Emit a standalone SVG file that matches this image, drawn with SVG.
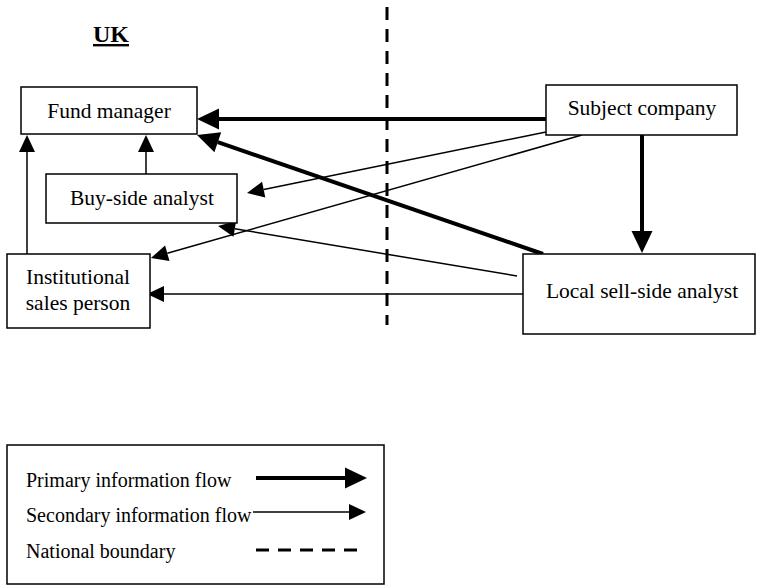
<svg xmlns="http://www.w3.org/2000/svg" width="757" height="585" viewBox="0 0 757 585">
  <defs>
    <style>
      .box { fill: #fff; stroke: #000; stroke-width: 1.5; }
      .lbl { font-family: "Liberation Serif", "Times New Roman", serif; font-size: 21.5px; fill: #000; text-anchor: middle; }
      .leg { font-family: "Liberation Serif", "Times New Roman", serif; font-size: 20px; fill: #000; }
      .primary { stroke: #000; stroke-width: 4; fill: none; marker-end: url(#headP); }
      .secondary { stroke: #000; stroke-width: 1.5; fill: none; marker-end: url(#headS); }
      .boundary { stroke: #000; stroke-width: 3; stroke-dasharray: 13 9; fill: none; }
    </style>
    <marker id="headP" markerUnits="userSpaceOnUse" markerWidth="24" markerHeight="24" refX="0" refY="11" orient="auto" viewBox="0 0 24 22" overflow="visible">
      <path d="M0,0.5 L22,11 L0,21.5 z" fill="#000"/>
    </marker>
    <marker id="headS" markerUnits="userSpaceOnUse" markerWidth="18" markerHeight="18" refX="0" refY="8" orient="auto" viewBox="0 0 18 16" overflow="visible">
      <path d="M0,0 L17,8 L0,16 z" fill="#000"/>
    </marker>
  </defs>

  <rect width="757" height="585" fill="#fff"/>

  <text x="111" y="42" font-family="Liberation Serif, Times New Roman, serif" font-size="24" font-weight="bold" text-anchor="middle" text-decoration="underline">UK</text>

  <g id="boundary">
    <line class="boundary" x1="387" y1="7" x2="387" y2="325"/>
  </g>

  <g id="connectors">
    <line class="primary" x1="546" y1="119" x2="219" y2="119"/>
    <line class="primary" x1="543" y1="254" x2="217.8" y2="142.2"/>
    <line class="primary" x1="642" y1="135" x2="642" y2="231"/>
    <line class="secondary" x1="146" y1="174" x2="146" y2="152"/>
    <line class="secondary" x1="27" y1="254" x2="27" y2="152"/>
    <line class="secondary" x1="546" y1="132" x2="263.7" y2="189.6"/>
    <line class="secondary" x1="582" y1="135" x2="167.3" y2="253.3"/>
    <line class="secondary" x1="517" y1="276" x2="234.8" y2="228.8"/>
    <line class="secondary" x1="523" y1="294" x2="164" y2="294"/>
  </g>

  <g id="fund-manager">
    <rect class="box" x="21" y="87" width="176" height="47"/>
    <text class="lbl" x="109" y="118">Fund manager</text>
  </g>

  <g id="subject-company">
    <rect class="box" x="546" y="85" width="191" height="50"/>
    <text class="lbl" x="642" y="115">Subject company</text>
  </g>

  <g id="buy-side-analyst">
    <rect class="box" x="46" y="174" width="191" height="49"/>
    <text class="lbl" x="142" y="205">Buy-side analyst</text>
  </g>

  <g id="institutional-sales-person">
    <rect class="box" x="7" y="254" width="143" height="74"/>
    <text class="lbl" x="78" y="284">Institutional</text>
    <text class="lbl" x="78" y="310">sales person</text>
  </g>

  <g id="local-sell-side-analyst">
    <rect class="box" x="523" y="254" width="232" height="80"/>
    <text class="lbl" x="642" y="298">Local sell-side analyst</text>
  </g>

  <g id="legend">
    <rect class="box" x="7" y="445" width="377" height="139"/>
    <text class="leg" x="26" y="487">Primary information flow</text>
    <text class="leg" x="26" y="522">Secondary information flow</text>
    <text class="leg" x="26" y="558">National boundary</text>
    <line class="primary" x1="256" y1="478" x2="345" y2="478"/>
    <line class="secondary" x1="253" y1="512" x2="349" y2="512"/>
    <line class="boundary" x1="256" y1="550" x2="358" y2="550"/>
  </g>
</svg>
